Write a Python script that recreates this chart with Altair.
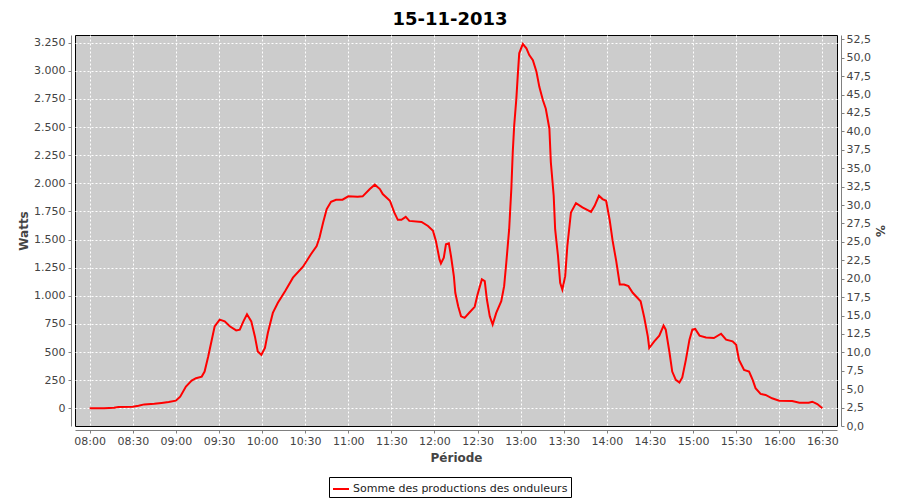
import altair as alt
import pandas as pd

# ---- data ----
times = [
    "08:00:00", "08:10:00", "08:17:00", "08:20:00", "08:30:00", "08:34:00", "08:38:00", "08:45:00",
    "08:50:00", "08:55:00", "09:00:00", "09:03:00", "09:07:00", "09:11:00", "09:14:00", "09:18:00",
    "09:20:00", "09:22:30", "09:25:00", "09:27:00", "09:30:30", "09:34:00", "09:37:30", "09:42:00",
    "09:44:30", "09:47:00", "09:49:30", "09:52:30", "09:55:00", "09:57:00", "09:59:30", "10:02:00",
    "10:04:00", "10:07:30", "10:11:00", "10:16:00", "10:21:30", "10:28:30", "10:34:00", "10:38:00",
    "10:40:00", "10:42:30", "10:45:00", "10:48:00", "10:51:30", "10:56:00", "11:00:00", "11:06:30",
    "11:10:00", "11:15:00", "11:18:30", "11:22:00", "11:24:00", "11:29:00", "11:32:00", "11:34:30",
    "11:37:00", "11:40:00", "11:42:30", "11:51:00", "11:55:30", "11:59:00", "12:01:00", "12:03:30",
    "12:04:30", "12:06:30", "12:08:00", "12:10:00", "12:11:30", "12:13:30", "12:14:30", "12:16:30",
    "12:18:30", "12:21:00", "12:24:30", "12:28:00", "12:30:00", "12:33:00", "12:35:00", "12:36:30",
    "12:38:30", "12:40:30", "12:43:00", "12:46:30", "12:48:30", "12:50:00", "12:52:00", "12:53:30",
    "12:54:30", "12:55:30", "12:57:00", "12:58:00", "12:59:00", "13:01:30", "13:04:00", "13:06:00",
    "13:08:30", "13:11:00", "13:13:00", "13:15:30", "13:17:30", "13:20:00", "13:21:00", "13:23:00",
    "13:24:00", "13:26:00", "13:27:30", "13:29:00", "13:31:00", "13:32:30", "13:35:00", "13:38:30",
    "13:43:00", "13:49:00", "13:51:30", "13:54:30", "13:57:00", "13:59:30", "14:02:00", "14:04:00",
    "14:06:30", "14:09:00", "14:12:00", "14:15:00", "14:18:00", "14:23:30", "14:26:00", "14:28:30",
    "14:29:30", "14:33:00", "14:36:30", "14:39:30", "14:41:00", "14:43:30", "14:45:30", "14:48:00",
    "14:50:30", "14:52:30", "14:55:00", "14:57:30", "14:59:30", "15:01:30", "15:04:30", "15:09:00",
    "15:14:30", "15:19:30", "15:23:00", "15:27:30", "15:30:00", "15:32:00", "15:35:30", "15:39:00",
    "15:41:30", "15:43:30", "15:47:00", "15:50:30", "15:55:00", "16:00:00", "16:09:00", "16:14:00",
    "16:20:30", "16:23:00", "16:26:30", "16:30:00",
]
watts = [
    0, 0, 5, 12, 15, 23, 35, 40,
    48, 56, 68, 104, 193, 246, 268, 282,
    327, 461, 610, 729, 788, 773, 729, 693,
    699, 773, 836, 773, 639, 505, 476, 536,
    670, 848, 938, 1041, 1161, 1259, 1369, 1443,
    1518, 1652, 1771, 1836, 1854, 1854, 1884, 1880,
    1884, 1949, 1988, 1949, 1904, 1845, 1741, 1675,
    1675, 1702, 1666, 1657, 1621, 1577, 1488, 1324,
    1288, 1339, 1458, 1467, 1354, 1175, 1027, 907,
    818, 804, 854, 902, 1012, 1146, 1130, 967,
    818, 744, 848, 952, 1086, 1295, 1592, 1949,
    2277, 2514, 2753, 2961, 3155, 3238, 3199, 3140,
    3095, 2991, 2857, 2738, 2663, 2485, 2188, 1889,
    1592, 1354, 1116, 1056, 1175, 1443, 1741, 1824,
    1786, 1746, 1800, 1889, 1860, 1845, 1670, 1490,
    1310, 1101, 1101, 1086, 1027, 952, 810, 639,
    536, 595, 645, 735, 699, 505, 327, 253,
    229, 275, 431, 610, 699, 705, 646, 630,
    625, 663, 610, 595, 565, 431, 342, 327,
    253, 179, 128, 119, 89, 68, 65, 50,
    50, 59, 38, 0,
]
series_name = "Somme des productions des onduleurs"
day = "2013-11-15"
chart_title = "15-11-2013"
left_ticks = [0, 250, 500, 750, 1000, 1250, 1500, 1750, 2000, 2250, 2500, 2750, 3000, 3250]
right_ticks = [0, 2.5, 5, 7.5, 10, 12.5, 15, 17.5, 20, 22.5, 25, 27.5, 30, 32.5, 35, 37.5,
               40, 42.5, 45, 47.5, 50, 52.5]
x_tick_labels = ["08:00", "08:30", "09:00", "09:30", "10:00", "10:30", "11:00", "11:30", "12:00",
                 "12:30", "13:00", "13:30", "14:00", "14:30", "15:00", "15:30", "16:00", "16:30"]
watts_domain = [-157, 3318]
pct_domain = [0, 53.08]
x_start = (7, 49, 47)
x_end = (16, 40, 12)

df = pd.DataFrame({"t": [f"{day}T{t}" for t in times], "w": watts, "s": series_name})


def dt(h, m, s=0):
    return alt.DateTime(year=2013, month=11, date=15, hours=h, minutes=m, seconds=s)


x_values = [dt(int(l[:2]), int(l[3:])) for l in x_tick_labels]

FONT = "DejaVu Sans"
GRAY = "#808080"
TXT = "#444444"

common_axis = dict(
    domainColor=GRAY, tickColor=GRAY, tickSize=3,
    labelFont=FONT, labelFontSize=11, labelColor=TXT,
    titleFont=FONT, titleFontSize=12, titleFontWeight="bold", titleColor=TXT,
)

line = alt.Chart(df).mark_line(strokeWidth=2, clip=True).encode(
    x=alt.X(
        "t:T",
        scale=alt.Scale(domain=[dt(*x_start), dt(*x_end)]),
        axis=alt.Axis(values=x_values, format="%H:%M", title="Période", offset=4,
                      grid=True, gridColor="white", gridDash=[2, 2], gridWidth=1,
                      labelPadding=2, titlePadding=6, labelFlush=False, labelOverlap=False,
                      **common_axis),
    ),
    y=alt.Y(
        "w:Q",
        scale=alt.Scale(domain=watts_domain, nice=False, zero=False),
        axis=alt.Axis(values=left_ticks, labelExpr="replace(format(datum.value, ','), ',', '.')",
                      title="Watts", offset=4, grid=True, gridColor="white", gridDash=[2, 2],
                      gridWidth=1, labelPadding=3, titlePadding=3, labelFlush=False,
                      labelOverlap=False, **common_axis),
    ),
    color=alt.Color(
        "s:N",
        scale=alt.Scale(domain=[series_name], range=["#ff0000"]),
        legend=alt.Legend(title=None, orient="none", legendX=254, legendY=442,
                          symbolType="stroke", symbolSize=256, symbolStrokeWidth=2,
                          labelFont=FONT, labelFontSize=11, labelColor="#222222",
                          labelOffset=3, labelLimit=0, padding=3, strokeColor="black",
                          fillColor="white", direction="horizontal"),
    ),
)

pct = alt.Chart(pd.DataFrame({"p": [0]})).mark_point(opacity=0).encode(
    y=alt.Y(
        "p:Q",
        scale=alt.Scale(domain=pct_domain, nice=False, zero=False),
        axis=alt.Axis(orient="right", values=right_ticks,
                      labelExpr="replace(format(datum.value, '.1f'), '.', ',')",
                      title="%", offset=4, grid=False, labelPadding=2, titlePadding=2,
                      labelFlush=False, labelOverlap=False, **common_axis),
    ),
)

chart = alt.layer(line, pct).resolve_scale(y="independent").properties(
    width=762,
    height=391,
    background="white",
    padding={"left": 67, "top": 27, "right": 55, "bottom": 74},
    autosize=alt.AutoSizeParams(type="none"),
    title=alt.TitleParams(chart_title, font=FONT, fontSize=18, fontWeight="bold", color="black",
                          anchor="middle", offset=4, dx=-6),
).configure_view(
    stroke="black", strokeWidth=1, fill="#cccccc"
)

chart.save("out.html", embed_options={"renderer": "svg", "actions": False})
